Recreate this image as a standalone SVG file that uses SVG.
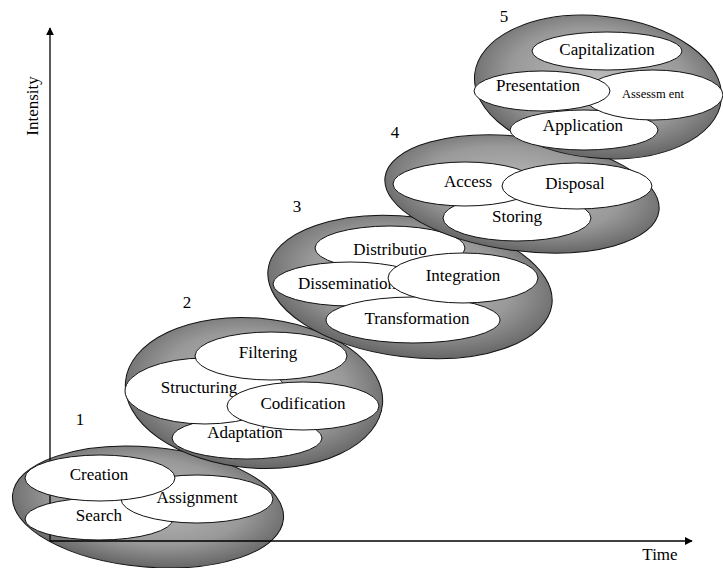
<svg xmlns="http://www.w3.org/2000/svg" width="723" height="568" viewBox="0 0 723 568">
<defs>
<radialGradient id="g" cx="50%" cy="45%" r="55%">
<stop offset="0%" stop-color="#bcbcbc"/>
<stop offset="65%" stop-color="#999999"/>
<stop offset="100%" stop-color="#666666"/>
</radialGradient>
<marker id="arr" viewBox="0 0 10 10" refX="9" refY="5" markerWidth="8" markerHeight="8" markerUnits="userSpaceOnUse" orient="auto">
<path d="M0,0 L10,5 L0,10 Z" fill="#000"/>
</marker>
</defs>
<style>
.outer{fill:url(#g);stroke:#111;stroke-width:1}
.inner{fill:#fff;stroke:#111;stroke-width:1}
text{font-family:"Liberation Serif","Times New Roman",serif;font-size:17px;fill:#000;text-anchor:middle}
.small{font-size:12.5px}
.axis{stroke:#000;stroke-width:1.3;fill:none}
</style>
<rect width="723" height="568" fill="#fff"/>

<g id="stage1">
<ellipse class="outer" cx="148" cy="507" rx="136" ry="60" transform="rotate(5 148 507)"/>
</g>

<g id="connectors">
<line class="axis" x1="50" y1="541" x2="50" y2="28" marker-end="url(#arr)"/>
<line class="axis" x1="50" y1="541" x2="692" y2="541" marker-end="url(#arr)"/>
</g>
<text x="0" y="0" transform="translate(38 106) rotate(-90)" font-size="16">Intensity</text>
<text x="660" y="560">Time</text>

<g id="stage1-items">
<g id="search"><ellipse class="inner" cx="99" cy="519" rx="74" ry="21"/><text x="99" y="521">Search</text></g>
<g id="assignment"><ellipse class="inner" cx="197" cy="499" rx="76" ry="24"/><text x="197" y="503">Assignment</text></g>
<g id="creation"><ellipse class="inner" cx="100" cy="478" rx="75" ry="23"/><text x="99" y="480">Creation</text></g>
<text x="80" y="425">1</text>
</g>

<g id="stage2">
<ellipse class="outer" cx="254" cy="393" rx="129" ry="75" transform="rotate(5 254 393)"/>
<g id="adaptation"><ellipse class="inner" cx="247" cy="438" rx="75" ry="21"/><text x="245" y="438">Adaptation</text></g>
<g id="structuring"><ellipse class="inner" cx="205" cy="391" rx="80" ry="33"/><text x="199" y="393">Structuring</text></g>
<g id="filtering"><ellipse class="inner" cx="271" cy="356" rx="76" ry="24"/><text x="268" y="358">Filtering</text></g>
<g id="codification"><ellipse class="inner" cx="303" cy="406" rx="76" ry="24"/><text x="303" y="409">Codification</text></g>
<text x="187" y="308">2</text>
</g>

<g id="stage3">
<ellipse class="outer" cx="410" cy="287" rx="143" ry="70" transform="rotate(7 410 287)"/>
<g id="distributio"><ellipse class="inner" cx="390" cy="248" rx="75" ry="22"/><text x="390" y="255">Distributio</text></g>
<g id="dissemination"><ellipse class="inner" cx="350" cy="284" rx="77" ry="22"/><text x="347" y="289">Dissemination</text></g>
<g id="transformation"><ellipse class="inner" cx="413" cy="320" rx="87" ry="23"/><text x="417" y="324">Transformation</text></g>
<g id="integration"><ellipse class="inner" cx="463" cy="278" rx="75" ry="25"/><text x="463" y="281">Integration</text></g>
<text x="297" y="212">3</text>
</g>

<g id="stage4">
<ellipse class="outer" cx="522" cy="194" rx="138" ry="57" transform="rotate(7 522 194)"/>
<g id="storing"><ellipse class="inner" cx="517" cy="218" rx="74" ry="23"/><text x="517" y="222">Storing</text></g>
<g id="access"><ellipse class="inner" cx="465" cy="184" rx="72" ry="22"/><text x="468" y="187">Access</text></g>
<g id="disposal"><ellipse class="inner" cx="577" cy="186" rx="75" ry="23"/><text x="575" y="189">Disposal</text></g>
<text x="395" y="138">4</text>
</g>

<g id="stage5">
<ellipse class="outer" cx="598" cy="87" rx="124" ry="71" transform="rotate(6 598 87)"/>
<g id="application"><ellipse class="inner" cx="584" cy="130" rx="74" ry="20"/><text x="583" y="131">Application</text></g>
<g id="capitalization"><ellipse class="inner" cx="607" cy="51" rx="75" ry="19"/><text x="607" y="55">Capitalization</text></g>
<g id="assessment"><ellipse class="inner" cx="653" cy="95" rx="70" ry="25"/><text class="small" x="653" y="98">Assessm ent</text></g>
<g id="presentation"><ellipse class="inner" cx="542" cy="91" rx="68" ry="20"/><text x="538" y="91">Presentation</text></g>
<text x="504" y="22">5</text>
</g>
</svg>
